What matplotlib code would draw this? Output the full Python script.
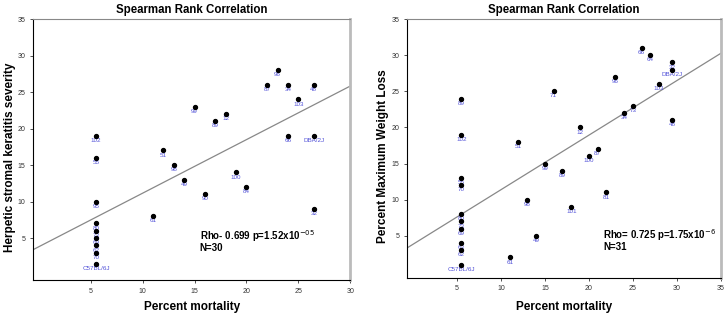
import matplotlib
matplotlib.use("Agg")
from matplotlib import pyplot as plt

plt.rcParams['font.family'] = ['Liberation Sans', 'DejaVu Sans']

# left panel: percent mortality vs HSK severity
hsk_labels = ['102', '55', '95', '80', '73', '69', '62', '70', 'C57BL/6J',
              '61', '51', '98', '49', '99', '90', '89', '12', '100', '84',
              '87', '96', '34', '66', '103', '48', 'DBA/2J', '32']
hsk_mort = [5.5, 5.5, 5.5, 5.5, 5.5, 5.5, 5.5, 5.5, 5.5,
            11, 12, 13, 14, 15, 16, 17, 18, 19, 20,
            22, 23, 24, 24, 25, 26.5, 26.5, 26.5]
hsk_sev = [19, 16, 10, 7, 6, 5, 4, 3, 1.5,
           8, 17, 15, 13, 23, 11, 21, 22, 14, 12,
           26, 28, 26, 19, 24, 26, 19, 9]
hsk_fit = (3.82, 0.733)  # intercept, slope

# right panel: percent mortality vs max weight loss
wl_labels = ['89', '102', '55', '70', '80', '73', '69', '63', '62', 'C57BL/6J',
             '61', '51', '98', '49', '99', '71', '89', '101', '12', '100',
             '87', '81', '96', '34', '73', '66', '64', '103', '32', 'DBA/2J', '48']
wl_mort = [5.5, 5.5, 5.5, 5.5, 5.5, 5.5, 5.5, 5.5, 5.5, 5.5,
           11, 12, 13, 14, 15, 16, 17, 18, 19, 20,
           21, 22, 23, 24, 25, 26, 27, 28, 29.5, 29.5, 29.5]
wl_loss = [24, 19, 13, 12, 8, 7, 6, 4, 3, 1,
           2, 18, 10, 5, 15, 25, 14, 9, 20, 16,
           17, 11, 27, 22, 23, 31, 30, 26, 29, 28, 21]
wl_fit = (3.82, 0.755)

fig = plt.figure(figsize=(7.28, 3.17), dpi=100)

def panel(rect, xs, ys, labels, fit, xlim, ylim, xticks, ylabel, ylab_x, xlab_y,
          txt_xy, rho, pexp, n):
    ax = fig.add_axes(rect)
    ax.set_xlim(*xlim)
    ax.set_ylim(*ylim)
    x0, x1 = xlim
    ax.plot([x0, x1], [fit[0] + fit[1] * x0, fit[0] + fit[1] * x1],
            color='#888888', lw=0.9, zorder=1)
    ax.scatter(xs, ys, s=8, color='black', zorder=3)
    for x, y, lab in zip(xs, ys, labels):
        ax.text(x, y - 0.3, lab, color='#5050d8', fontsize=4.5,
                ha='center', va='top', zorder=2)
    ax.set_xticks(xticks)
    ax.set_yticks([5, 10, 15, 20, 25, 30, 35])
    ax.tick_params(labelsize=5, length=2, width=0.6, colors='#333333')
    ax.set_title('Spearman Rank Correlation', fontsize=8.3, fontweight='bold', pad=4)
    ax.set_xlabel('Percent mortality', fontsize=8.5, fontweight='bold')
    ax.set_ylabel(ylabel, fontsize=8.5, fontweight='bold')
    ax.yaxis.set_label_coords(ylab_x, 0.47)
    ax.xaxis.set_label_coords(0.5, xlab_y)
    for s in ['left', 'bottom']:
        ax.spines[s].set_linewidth(0.8)
    ax.spines['top'].set_color('#888888')
    ax.spines['top'].set_linewidth(0.8)
    ax.spines['right'].set_color('#bbbbbb')
    ax.spines['right'].set_linewidth(2)
    tx, ty = txt_xy
    ax.text(tx, ty, rho + ' p=' + pexp[0] + 'x10$^{' + pexp[1] + '}$',
            fontsize=7, fontweight='bold')
    ax.text(tx, ty - 1.5, 'N=' + str(n), fontsize=7, fontweight='bold')
    return ax

panel([0.0453, 0.1167, 0.4357, 0.8233], hsk_mort, hsk_sev, hsk_labels, hsk_fit,
      (-0.58, 30), (-0.75, 35), [5, 10, 15, 20, 25, 30],
      'Herpetic stromal keratitis severity', -0.054, -0.08, (15.5, 4.7),
      'Rho- 0.699', ('1.52', '-05'), 30)

panel([0.5595, 0.124, 0.4305, 0.816], wl_mort, wl_loss, wl_labels, wl_fit,
      (-0.64, 35), (-0.8, 35), [5, 10, 15, 20, 25, 30, 35],
      'Percent Maximum Weight Loss', -0.058, -0.09, (21.6, 4.5),
      'Rho= 0.725', ('1.75', '-6'), 31)

fig.savefig('out.png', dpi=100)
